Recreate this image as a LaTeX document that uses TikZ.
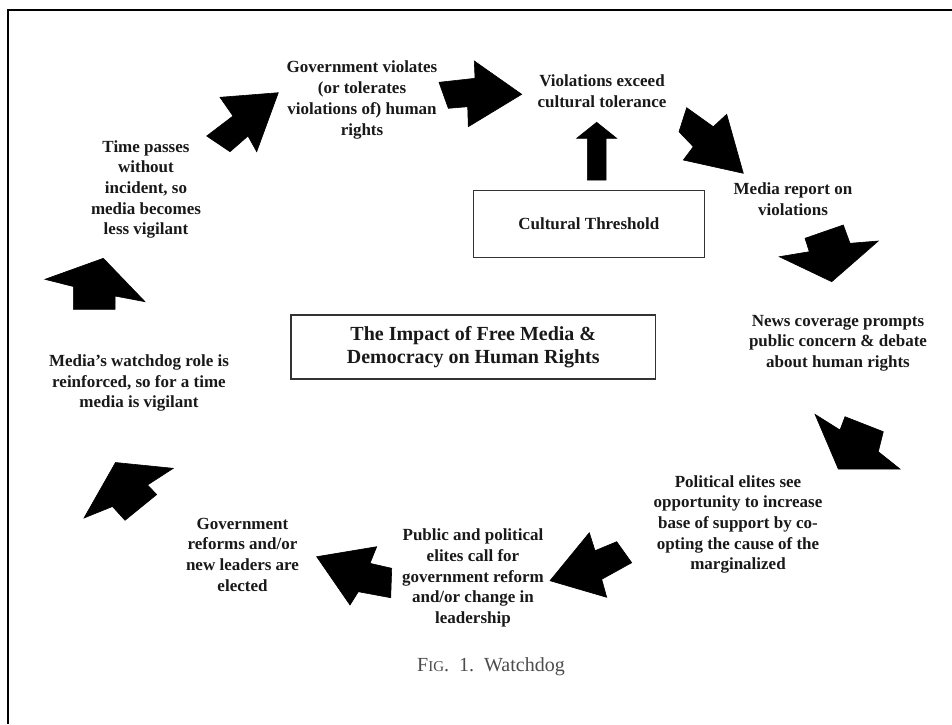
\documentclass[tikz,border=0pt]{standalone}
\usepackage{fontspec}
\setmainfont{Liberation Serif}
\begin{document}
\begin{tikzpicture}[x=1pt,y=-1pt,
  lbl/.style={align=center,font=\bfseries\fontsize{17}{20.7}\selectfont,inner sep=0pt,text=black!90},
  ttl/.style={align=center,font=\bfseries\fontsize{20}{23}\selectfont,inner sep=0pt,text=black!90},
  frame/.style={draw=black!80,line width=1.5pt},
  blk/.style={fill=black,draw=black,line width=0.6pt,line join=miter}]
\useasboundingbox (0,0) rectangle (952,724);
\draw[line width=2pt] (952,10) -- (8,10) -- (8,724);
% text nodes
\node[lbl] (gov) at (362,100) {Government violates\\(or tolerates\\violations of) human\\rights};
\node[lbl] (exceed) at (602,91) {Violations exceed\\cultural tolerance};
\node[lbl,frame,minimum width=231pt,minimum height=66.6pt] (thr) at (588.8,224) {Cultural Threshold};
\node[lbl] (report) at (793,199) {Media report on\\violations};
\node[lbl] (news) at (838,343) {News coverage prompts\\public concern \& debate\\about human rights};
\node[lbl] (elites) at (738,524.5) {Political elites see\\opportunity to increase\\base of support by co-\\opting the cause of the\\marginalized};
\node[lbl] (call) at (473,578) {Public and political\\elites call for\\government reform\\and/or change in\\leadership};
\node[lbl] (reform) at (242.5,554.5) {Government\\reforms and/or\\new leaders are\\elected};
\node[lbl] (watch) at (139,383) {Media’s watchdog role is\\reinforced, so for a time\\media is vigilant};
\node[lbl] (time) at (146,189.5) {Time passes\\without\\incident, so\\media becomes\\less vigilant};
\node[ttl,frame,minimum width=364.7pt,minimum height=64pt] (title) at (473.3,347) {The Impact of Free Media \&\\Democracy on Human Rights};
\node[inner sep=0pt,text=black!70,font=\fontsize{20}{24}\selectfont] (cap) at (491,667) {F{\fontsize{15}{18}\selectfont IG}.~~1.~~Watchdog};
% block arrows
\fill[blk] (103.3,258.3) -- (145,301.7) -- (115,296) -- (115,309.3) -- (73.3,309.3) -- (73.3,286.5) -- (45,279.3) -- cycle;
\fill[blk] (278.3,92.7) -- (220,97.3) -- (233,116) -- (206.7,136) -- (230,151.7) -- (248,136) -- (256.7,151.7) -- cycle;
\fill[blk] (439,82.3) -- (475,78.3) -- (474.3,61) -- (521.7,94.3) -- (468.3,126.7) -- (467.7,106.7) -- (448.3,108.3) -- cycle;
\fill[blk] (596.7,122.3) -- (616.7,138.3) -- (606,138.3) -- (606,180) -- (587.3,180) -- (587.3,138.3) -- (576.7,138.3) -- cycle;
\fill[blk] (686.7,107.7) -- (713.3,126.7) -- (726.7,114.3) -- (743.3,173.3) -- (683.3,160) -- (693.3,146.7) -- (679,131.7) -- cycle;
\fill[blk] (805,238.3) -- (843.3,225) -- (850,243.3) -- (878.3,241) -- (831.7,281.7) -- (779.3,256.7) -- (809.3,251.7) -- cycle;
\fill[blk] (815,414.3) -- (840,430) -- (845,416.7) -- (883.3,431.7) -- (878.3,451.7) -- (900,469) -- (838.3,469) -- cycle;
\fill[blk] (589.3,532.7) -- (595,550.7) -- (616.7,541.7) -- (631.7,562.7) -- (601.7,579.3) -- (606.7,597.3) -- (550,580.7) -- cycle;
\fill[blk] (316.7,556.7) -- (376.7,546.7) -- (370,563.3) -- (391.7,568.3) -- (390.7,597.7) -- (358.3,591.7) -- (350,605) -- cycle;
\fill[blk] (115.5,462.5) -- (173.3,468.3) -- (147.5,485) -- (156.7,494.5) -- (125,520.3) -- (112.5,506.5) -- (84,518) -- cycle;
\end{tikzpicture}
\end{document}
